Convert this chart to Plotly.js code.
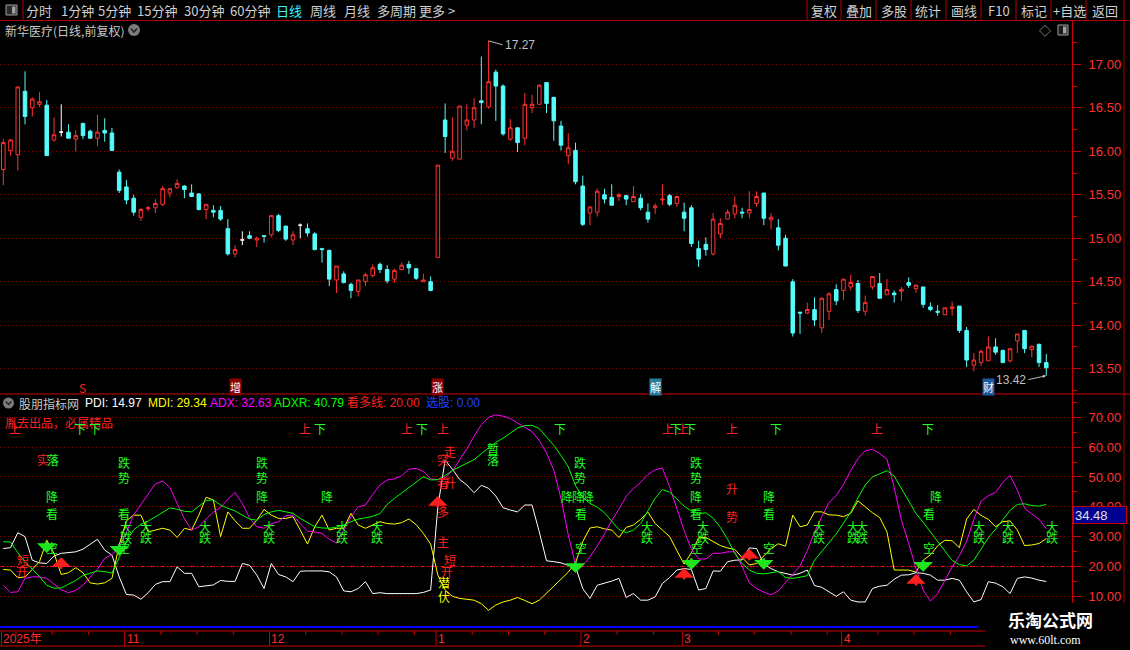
<!DOCTYPE html>
<html><head><meta charset="utf-8">
<script src="https://cdn.plot.ly/plotly-3.0.1.min.js"></script>
<style>html,body{margin:0;padding:0;background:#000;overflow:hidden}#chart{width:1130px;height:650px}</style>
</head><body><div id="chart"></div>
<script>
// ---------- data ----------
const candleOpen = [15.79,16.01,15.96,16.69,16.50,16.54,16.53,16.13,16.22,16.22,
16.14,16.32,16.23,16.15,16.24,16.21,15.76,15.59,15.46,15.24,
15.34,15.35,15.39,15.52,15.58,15.60,15.52,15.51,15.33,15.32,
15.32,15.11,14.82,14.98,15.03,14.98,15.03,15.04,15.26,15.14,
14.98,15.15,15.11,15.05,14.88,14.86,14.52,14.59,14.47,14.39,
14.50,14.57,14.70,14.64,14.53,14.64,14.70,14.65,14.50,14.50,
14.78,16.36,15.92,15.91,16.30,16.36,16.58,16.51,16.91,16.75,
16.14,16.27,16.15,16.50,16.54,16.79,16.62,16.29,15.95,16.01,
15.60,15.29,15.30,15.50,15.47,15.48,15.49,15.42,15.46,15.30,
15.35,15.44,15.49,15.40,15.30,15.35,14.88,14.93,14.82,15.05,
15.22,15.28,15.30,15.29,15.40,15.52,15.21,15.12,15.00,14.50,
14.15,14.14,14.18,13.97,14.16,14.41,14.40,14.44,14.48,14.16,
14.44,14.48,14.35,14.37,14.39,14.49,14.42,14.44,14.21,14.16,
14.12,14.19,14.22,13.94,13.54,13.57,13.59,13.75,13.71,13.59,
13.82,13.94,13.72,13.78,13.57];
const candleHigh = [16.14,16.14,16.74,16.92,16.62,16.68,16.59,16.39,16.54,16.31,
16.24,16.33,16.25,16.42,16.38,16.27,15.79,15.67,15.50,15.35,
15.37,15.45,15.60,15.57,15.68,15.61,15.62,15.52,15.39,15.38,
15.37,15.22,14.92,15.08,15.08,15.02,15.03,15.26,15.28,15.14,
15.08,15.17,15.17,15.07,14.89,14.87,14.68,14.62,14.49,14.52,
14.60,14.70,14.72,14.69,14.65,14.72,14.74,14.65,14.59,14.56,
15.84,16.55,16.39,16.52,16.54,16.61,17.09,17.27,16.94,16.77,
16.37,16.27,16.67,16.65,16.77,16.79,16.62,16.35,16.21,16.10,
15.72,15.36,15.57,15.57,15.62,15.52,15.50,15.60,15.51,15.40,
15.40,15.62,15.51,15.48,15.41,15.38,14.97,15.01,15.29,15.23,
15.33,15.48,15.35,15.54,15.54,15.52,15.29,15.22,15.04,14.53,
14.15,14.26,14.32,14.32,14.38,14.47,14.53,14.58,14.52,14.34,
14.56,14.60,14.53,14.40,14.44,14.55,14.47,14.44,14.26,14.23,
14.20,14.27,14.22,13.98,13.68,13.72,13.87,13.85,13.72,13.73,
13.90,13.94,13.76,13.79,13.67];
const candleLow = [15.61,15.95,15.78,16.31,16.40,16.51,15.95,16.11,16.17,16.15,
16.00,16.14,16.15,16.06,16.11,16.01,15.52,15.39,15.26,15.20,
15.31,15.29,15.37,15.47,15.57,15.46,15.48,15.32,15.22,15.24,
15.20,14.80,14.78,14.92,14.99,14.90,14.95,15.01,15.07,14.97,
14.92,15.00,15.02,14.86,14.72,14.45,14.37,14.48,14.31,14.33,
14.45,14.55,14.60,14.48,14.49,14.63,14.59,14.52,14.50,14.39,
14.78,15.98,15.89,15.91,16.24,16.27,16.31,16.49,16.35,16.18,
16.12,15.99,16.07,16.44,16.54,16.44,16.12,16.01,15.85,15.62,
15.14,15.15,15.25,15.40,15.38,15.43,15.38,15.42,15.32,15.18,
15.28,15.38,15.37,15.36,15.08,14.90,14.67,14.80,14.80,15.00,
15.22,15.23,15.23,15.23,15.36,15.15,15.10,14.86,14.68,13.87,
13.90,14.13,13.99,13.91,14.06,14.23,14.29,14.40,14.14,14.11,
14.41,14.31,14.35,14.26,14.28,14.43,14.37,14.20,14.16,14.11,
14.12,14.11,13.91,13.52,13.47,13.53,13.59,13.66,13.57,13.57,
13.68,13.68,13.63,13.52,13.42];
const candleClose = [16.10,16.13,16.74,16.40,16.60,16.57,15.95,16.19,16.22,16.15,
16.18,16.18,16.15,16.22,16.21,16.01,15.55,15.44,15.30,15.33,
15.35,15.40,15.57,15.57,15.63,15.56,15.48,15.33,15.39,15.30,
15.22,14.82,14.87,14.98,15.00,15.00,15.02,15.26,15.09,14.99,
15.04,15.15,15.06,14.87,14.87,14.53,14.68,14.49,14.40,14.52,
14.58,14.66,14.64,14.51,14.63,14.69,14.66,14.54,14.52,14.40,
15.84,16.17,16.00,16.52,16.36,16.50,16.56,16.80,16.75,16.20,
16.27,16.10,16.54,16.54,16.76,16.55,16.35,16.07,16.04,15.65,
15.16,15.36,15.54,15.45,15.38,15.50,15.45,15.48,15.35,15.22,
15.37,15.45,15.39,15.48,15.23,14.94,14.76,14.87,15.22,15.17,
15.30,15.38,15.29,15.33,15.48,15.23,15.24,14.92,14.68,13.91,
14.14,14.18,14.06,14.31,14.36,14.28,14.53,14.49,14.17,14.26,
14.56,14.31,14.41,14.35,14.41,14.46,14.46,14.24,14.18,14.15,
14.20,14.21,13.94,13.60,13.60,13.70,13.75,13.69,13.57,13.73,
13.90,13.73,13.76,13.57,13.51];

const pdi = [26.0,26.3,31.3,30.0,22.1,21.2,21.0,23.5,24.4,24.6,
24.9,25.8,27.5,29.1,25.5,23.8,16.5,10.6,10.4,9.0,
11.2,14.0,14.9,14.9,19.9,17.7,17.7,13.2,13.5,13.8,
15.3,15.0,15.0,21.0,20.4,17.1,12.6,21.0,17.3,16.5,
14.9,18.4,18.5,18.5,18.5,18.2,16.5,11.8,11.5,12.6,
14.9,10.9,11.2,10.9,10.9,10.9,10.9,10.9,11.3,12.1,
40.0,55.7,52.6,49.2,47.3,44.7,47.2,46.2,43.6,39.7,
38.9,38.3,40.6,40.6,31.6,21.9,21.6,21.2,20.4,19.9,
12.6,9.3,13.7,14.3,15.1,16.0,9.6,10.9,8.7,8.7,
9.8,14.3,16.3,18.8,19.3,19.0,12.1,12.6,18.5,18.4,
21.6,22.1,22.2,26.2,26.0,20.8,19.3,18.2,17.7,17.1,
17.7,18.8,13.6,13.0,11.5,10.0,11.5,8.7,8.1,8.1,
12.6,13.4,13.7,15.7,17.1,17.2,17.9,17.7,17.1,15.4,
15.4,16.0,15.4,11.5,8.1,8.9,14.9,14.4,13.2,10.9,
16.0,16.5,16.1,15.4,14.97];
const mdi = [19.0,18.8,16.2,16.5,19.0,21.6,28.8,24.4,17.3,17.9,
19.6,17.9,14.5,14.1,14.5,16.0,27.2,35.3,37.2,37.2,
31.6,32.2,32.8,32.2,29.7,32.8,32.2,37.2,43.2,42.3,
30.0,38.3,35.3,32.8,32.8,35.5,39.1,37.2,36.1,36.1,
36.7,32.2,27.5,33.3,37.2,32.2,32.8,32.8,37.8,33.9,
32.8,33.9,35.0,34.4,34.2,34.7,35.9,34.0,31.1,27.5,
17.1,12.1,10.0,9.3,9.0,8.7,7.5,5.3,7.1,8.1,
8.7,9.6,8.6,7.5,8.7,10.9,13.4,15.7,18.1,21.2,
28.3,32.9,33.3,32.6,32.2,29.7,33.1,33.9,35.8,38.2,
34.4,32.2,30.0,25.3,20.8,24.6,29.6,29.7,28.3,27.0,
26.2,25.7,23.0,20.5,21.0,23.6,26.0,27.6,26.8,37.2,
33.3,33.9,38.3,38.3,37.3,37.2,36.7,37.8,42.0,40.0,
38.0,36.4,31.6,18.8,18.8,18.8,18.1,22.1,23.9,26.9,
28.8,28.6,26.3,35.9,39.1,37.1,35.8,33.3,35.0,35.3,
32.2,27.0,27.2,27.7,29.34];
const adx = [13.7,11.3,11.5,16.0,16.5,16.5,16.0,14.1,12.2,11.2,
12.0,13.7,16.5,19.1,22.7,24.0,26.3,31.4,37.3,40.9,
44.5,47.7,48.6,46.5,41.1,36.0,32.2,33.3,35.9,38.2,
39.8,42.5,44.8,41.1,36.3,33.3,32.8,34.3,35.0,37.0,
37.2,34.3,31.9,31.6,31.1,29.1,27.9,32.1,36.7,40.0,
40.6,44.1,47.3,49.0,49.4,50.4,52.6,52.9,51.8,49.4,
49.1,49.8,52.0,55.7,59.4,63.7,67.5,70.0,70.8,70.4,
69.6,68.1,66.6,65.2,62.2,58.0,52.3,42.8,30.6,20.7,
20.3,23.2,26.9,30.9,35.4,39.2,43.5,46.1,48.2,50.8,
52.4,53.0,46.7,39.5,32.0,25.8,22.5,22.5,24.4,24.4,
24.9,24.9,20.0,14.5,12.6,11.4,10.5,11.8,14.5,17.5,
20.2,25.3,31.5,36.7,41.4,43.8,47.4,52.2,56.2,58.8,
59.3,57.8,56.0,46.4,35.5,27.7,19.4,12.1,8.4,10.9,
15.3,19.8,23.6,28.4,35.8,41.9,43.7,44.8,48.2,50.5,
45.6,39.5,37.6,35.8,32.63];
const adxr = [28.3,28.2,24.6,21.6,19.1,16.6,13.7,12.7,12.8,14.0,
15.3,17.0,17.8,18.5,18.3,17.8,23.0,28.5,32.3,34.1,
35.2,36.6,38.2,39.6,39.2,38.5,38.3,40.2,42.1,42.3,
40.6,39.5,38.6,37.2,35.9,35.5,37.4,38.3,38.8,38.3,
37.8,36.1,34.8,33.3,32.9,32.8,33.2,33.9,35.0,35.9,
36.3,36.8,37.7,40.8,42.8,44.6,46.5,48.3,50.1,49.0,
49.1,50.5,52.2,53.4,54.6,55.8,57.8,59.8,61.6,63.0,
64.7,66.4,67.2,67.3,66.2,63.5,60.6,57.2,53.4,47.1,
43.2,41.1,39.9,38.0,35.2,32.4,31.3,32.2,34.4,38.6,
42.9,45.8,44.9,42.6,40.2,38.6,37.6,38.0,36.2,33.1,
29.1,24.4,21.0,18.8,17.7,17.5,17.8,18.3,16.3,16.0,
16.4,16.9,22.1,25.1,28.2,30.9,34.5,38.2,43.0,47.3,
50.0,51.1,52.1,50.3,46.1,42.1,37.8,34.8,31.7,28.3,
25.1,22.0,20.6,20.2,22.1,26.0,29.6,32.5,35.7,38.8,
40.8,41.0,40.4,40.2,40.79];
const bullLine = 20.00;
const pickValue = 0.00;

const monthTickIdx = [0,17,37,60,80,94,116];
const monthTickText = ['2025年','11','12','1','2','3','4'];
const weekTickIdx = [2,7,12,22,27,32,42,47,52,57,65,70,75,85,90,99,104,109,114,121,126,131];

const upDownIdx = [1.6,10.6,12.7,41.7,43.7,55.7,57.8,60.7,76.9,91.8,92.9,93.8,94.8,100.6,106.7,120.6,127.7];
const upDownText = ['上','下','下','上','下','上','下','上','下','上','下','上','下','上','下','上','下'];
const trendIdx = [16.7,35.7,79.6,95.6];
const jiangIdx = [6.7,35.7,44.7,77.8,79.3,80.7,95.6,105.7,128.8];
const kanIdx = [6.7,16.7,79.8,95.6,105.7,127.8];
const kongIdx = [6.7,16.7,79.8,95.8,105.7,127.8];
const dadieIdx = [16.9,19.7,27.9,36.7,46.8,51.6,88.9,96.6,112.6,117.3,118.6,134.7,138.7,144.8];
const miscIdx = [5.5,6.9,2.7,2.6,60.7,61.7,60.7,61.7,60.7,60.7,61.7,61.3,60.8,60.8,67.6,67.6,100.6,100.6];
const miscVal = [55.7,55.7,22.2,18.2,55.7,58.4,48.0,48.0,38.3,28.2,22.2,18.2,14.5,9.8,59.7,55.7,46.3,36.6];
const miscText = ['实','落','短','开','突','走','看','升','多','主','短','开','潜','伏','暂','落','升','势'];
const miscColor = ['R','G','R','R','R','R','R','R','R','R','R','R','Y','Y','G','G','R','R'];
const upArrowIdx = [8,60,94,103,126];
const upArrowVal = [23.1,43.6,19.5,25.9,17.5];
const downArrowIdx = [6,16,79,95,105,127];
const downArrowVal = [24.5,23.6,17.8,18.9,18.9,18.2];
const eventIdx = [11,32,60,90,136];
const eventText = ['S','增','涨','解','财'];

// ---------- helpers ----------
const W=1130,H=650;
const PX=x=>x/W, PY=y=>1-y/H;
const RED='#ff3232', CYAN='#54fcfc', GRID='#8c0000', AX='#cc0000';
const SIGC={R:'#ff2020',G:'#22ff22',Y:'#ffff00'};
const CJK='"Noto Sans CJK SC", sans-serif';
const NUM='"Liberation Sans", "Noto Sans CJK SC", sans-serif';
const ann=[], shapes=[];
function ptxt(x,y,text,color,size,anchor,fam,extra){
  ann.push(Object.assign({xref:'paper',yref:'paper',x:PX(x),y:PY(y),text:text,showarrow:false,
    xanchor:anchor||'left',yanchor:'middle',font:{family:fam||CJK,size:size||13,color:color}},extra||{}));
}
function pline(x0,y0,x1,y1,color,width,dash,layer){
  shapes.push({type:'line',xref:'paper',yref:'paper',x0:PX(x0),y0:PY(y0),x1:PX(x1),y1:PY(y1),
    line:{color:color,width:width||1,dash:dash||'solid'},layer:layer||'above'});
}
function prect(x0,y0,x1,y1,fill,lineColor){
  shapes.push({type:'rect',xref:'paper',yref:'paper',x0:PX(x0),y0:PY(y0),x1:PX(x1),y1:PY(y1),
    fillcolor:fill,line:{color:lineColor||fill,width:lineColor?1:0},layer:'above'});
}
function sig(i,v,t,c){
  ann.push({xref:'x',yref:'y2',x:i,y:v,text:t,showarrow:false,xanchor:'center',yanchor:'middle',
    font:{family:CJK,size:12,color:c}});
}

// ---------- candles ----------
const idx = candleOpen.map((_,i)=>i);
function pick(cond){
  const s={x:[],open:[],high:[],low:[],close:[]};
  idx.forEach(i=>{ if(cond(i)){ s.x.push(i); s.open.push(candleOpen[i]); s.high.push(candleHigh[i]); s.low.push(candleLow[i]); s.close.push(candleClose[i]); }});
  return s;
}
function cTrace(s,line,fill){
  return Object.assign({type:'candlestick',xaxis:'x',yaxis:'y',hoverinfo:'none',whiskerwidth:0,
    increasing:{line:{color:line,width:1},fillcolor:fill},decreasing:{line:{color:line,width:1},fillcolor:fill}},s);
}
const traces=[
  cTrace(pick(i=>candleClose[i]>candleOpen[i]),RED,'#000000'),
  cTrace(pick(i=>candleClose[i]<candleOpen[i]),CYAN,CYAN),
  cTrace(pick(i=>candleClose[i]===candleOpen[i]),'#ffffff','#ffffff')
];
[[pdi,'#ffffff'],[mdi,'#ffff00'],[adx,'#ff00ff'],[adxr,'#00ff00']].forEach(([arr,c])=>{
  traces.push({type:'scatter',mode:'lines',x:idx,y:arr,xaxis:'x',yaxis:'y2',line:{color:c,width:1},hoverinfo:'none'});
});

// ---------- toolbar ----------
pline(0,20.5,W,20.5,'#b40000',1);
pline(23,0,23,20.5,'#b40000',1);
prect(6,5,17,15,'#2a2a2a','#a0a0a0'); prect(12,6.5,15.5,13.5,'#a0a0a0');
const tbL=['分时','1分钟','5分钟','15分钟','30分钟','60分钟','日线','周线','月线','多周期','更多 &gt;'];
const tbLx=[39,77,114,157,204,250,289,323,357,396,437];
tbL.forEach((t,k)=>ptxt(tbLx[k],10.5,t,t==='日线'?'#3cf4f4':'#cfcfcf',13,'center'));
const tbR=['复权','叠加','多股','统计','画线','F10','标记','+自选','返回'];
const tbRx=[824,859,894,928,964,999,1034,1069,1105];
tbR.forEach((t,k)=>ptxt(tbRx[k],10.5,t,'#cfcfcf',13,'center'));
[807,841,876,911,946,981,1016,1051,1086,1124].forEach(x=>pline(x,0,x,20.5,'#b40000',1));
pline(1124,20.5,1124,H,'#a00000',1);

// ---------- main pane header ----------
ptxt(3,30,'新华医疗(日线,前复权)','#c8c8c8',12);
shapes.push({type:'circle',xref:'paper',yref:'paper',x0:PX(128),x1:PX(140),y0:PY(36),y1:PY(24),fillcolor:'#7c7c7c',line:{width:0}});
shapes.push({type:'path',xref:'paper',yref:'paper',path:`M${PX(131)},${PY(28.5)} L${PX(134)},${PY(32)} L${PX(137)},${PY(28.5)}`,line:{color:'#222',width:1.5}});
ptxt(1045,30,'◇','#a0a0a0',12,'center');
prect(1058,25,1068,35,'#1a1a1a','#a0a0a0'); prect(1063,26.5,1066.5,33.5,'#a0a0a0');
pline(0,394,W,394,'#c80000',1);

// events on main pane
const evBg=['rgba(0,0,0,0)','#8c0000','#8c0000','#2a7c9c','#1d5a9e'];
eventIdx.forEach((i,k)=>ann.push({xref:'x',yref:'paper',x:i,y:PY(387),text:eventText[k],showarrow:false,
  xanchor:'center',yanchor:'middle',bgcolor:evBg[k],borderpad:0,
  font:{family:CJK,size:k===0?12:11,color:k===0?'#ff2020':'#ffffff'}}));

// max / min price marks
let iMax=0,iMin=0;
idx.forEach(i=>{ if(candleHigh[i]>candleHigh[iMax]) iMax=i; if(candleLow[i]<candleLow[iMin]) iMin=i; });
ann.push({xref:'x',yref:'y',x:iMax,y:candleHigh[iMax],text:candleHigh[iMax].toFixed(2),showarrow:true,arrowhead:0,
  arrowwidth:1,arrowcolor:'#b8b8b8',ax:14,ay:4,xanchor:'left',font:{family:NUM,size:12,color:'#c0c0c0'}});
ann.push({xref:'x',yref:'y',x:iMin,y:candleLow[iMin],text:candleLow[iMin].toFixed(2),showarrow:true,arrowhead:2,arrowsize:0.7,
  arrowwidth:1,arrowcolor:'#b8b8b8',ax:-18,ay:4,xanchor:'right',font:{family:NUM,size:12,color:'#c0c0c0'}});

// ---------- lower pane header ----------
shapes.push({type:'circle',xref:'paper',yref:'paper',x0:PX(3),x1:PX(14),y0:PY(408.5),y1:PY(397.5),fillcolor:'#7c7c7c',line:{width:0}});
shapes.push({type:'path',xref:'paper',yref:'paper',path:`M${PX(5.7)},${PY(401.5)} L${PX(8.5)},${PY(404.5)} L${PX(11.3)},${PY(401.5)}`,line:{color:'#222',width:1.5}});
const last=a=>a[a.length-1].toFixed(2);
ptxt(17,403,'股朋指标网','#c8c8c8',12);
ptxt(83,403,'PDI: '+last(pdi),'#ffffff',12,'left',NUM);
ptxt(146,403,'MDI: '+last(mdi),'#ffff00',12,'left',NUM);
ptxt(208,403,'ADX: '+last(adx),'#ff00ff',12,'left',NUM);
ptxt(272,403,'ADXR: '+last(adxr),'#00ff00',12,'left',NUM);
ptxt(345,403,'看多线: '+bullLine.toFixed(2),'#ff2020',12,'left',NUM);
ptxt(424,403,'选股: '+pickValue.toFixed(2),'#2040ff',12,'left',NUM);
ptxt(3,422,'胤去出品，必属精品','#ff2020',12);

// bull line at 20
shapes.push({type:'line',xref:'paper',yref:'y2',x0:0,x1:1072/W,y0:bullLine,y1:bullLine,
  line:{color:'#ff1010',width:1,dash:'5px,2px,1px,2px'},layer:'below'});

// ---------- signals ----------
upDownIdx.forEach((i,k)=>sig(i,66.1,upDownText[k],upDownText[k]==='上'?SIGC.R:SIGC.G));
trendIdx.forEach(i=>{sig(i,54.7,'跌',SIGC.G); sig(i,49.7,'势',SIGC.G);});
jiangIdx.forEach(i=>sig(i,43.6,'降',SIGC.G));
kanIdx.forEach(i=>sig(i,37.6,'看',SIGC.G));
kongIdx.forEach(i=>sig(i,26.5,'空',SIGC.G));
dadieIdx.forEach(i=>{sig(i,33.5,'大',SIGC.G); sig(i,29.7,'跌',SIGC.G);});
miscIdx.forEach((i,k)=>sig(i,miscVal[k],miscText[k],SIGC[miscColor[k]]));
upArrowIdx.forEach((i,k)=>ann.push({xref:'x',yref:'y2',x:i,y:upArrowVal[k],ax:0,ay:13,text:'',showarrow:true,
  arrowhead:1,arrowsize:1.3,arrowwidth:2.5,arrowcolor:'#ff1e1e'}));
downArrowIdx.forEach((i,k)=>ann.push({xref:'x',yref:'y2',x:i,y:downArrowVal[k],ax:0,ay:-13,text:'',showarrow:true,
  arrowhead:1,arrowsize:1.3,arrowwidth:2.5,arrowcolor:'#1ee61e'}));

// current value box
ann.push({xref:'paper',yref:'paper',x:PX(1073),y:PY(515),xanchor:'left',yanchor:'middle',text:'34.48',showarrow:false,
  bgcolor:'#000090',bordercolor:'#c80000',borderwidth:1,width:50,align:'left',height:14,
  font:{family:NUM,size:13,color:'#e0e0e0'}});

// ---------- date band ----------
pline(0,627,978,627,'#0000ff',2);
pline(0,631,W,631,'#c80000',1);
pline(0,646,W,646,'#c80000',1);
monthTickIdx.forEach((i,k)=>{
  shapes.push({type:'line',xref:'x',yref:'paper',x0:i-0.25,x1:i-0.25,y0:PY(631),y1:PY(646),line:{color:'#c80000',width:1}});
  ann.push({xref:'x',yref:'paper',x:i-0.25,y:PY(639),text:monthTickText[k],showarrow:false,xanchor:'left',yanchor:'middle',
    xshift:0,font:{family:NUM,size:12,color:'#ff2a2a'}});
});
weekTickIdx.forEach(i=>shapes.push({type:'line',xref:'x',yref:'paper',x0:i-0.25,x1:i-0.25,y0:PY(631),y1:PY(635),line:{color:'#c80000',width:1}}));

// watermark
prect(985,603,W,H,'#000000');
ptxt(1050,619,'<b>乐淘公式网</b>','#ffffff',17,'center');
ptxt(1045,640,'www.60lt.com','#ffffff',12,'center','"Liberation Serif", serif');

// ---------- layout ----------
const yCommon={side:'right',anchor:'x',tickformat:'.2f',tickfont:{family:NUM,size:13,color:RED},ticks:'outside',ticklen:8,
  tickcolor:AX,showline:true,linecolor:AX,linewidth:1,showgrid:true,gridcolor:GRID,griddash:'1px,3px',gridwidth:1,
  zeroline:false,fixedrange:true,ticklabelstandoff:5};
const layout={
  width:W,height:H,margin:{l:0,r:0,t:0,b:0},paper_bgcolor:'#000',plot_bgcolor:'#000',showlegend:false,hovermode:false,dragmode:false,
  xaxis:{domain:[0,1072/W],range:[-0.456,147.55],showticklabels:false,showgrid:false,zeroline:false,showline:false,ticks:'',
    rangeslider:{visible:false},fixedrange:true,anchor:'y2'},
  yaxis:Object.assign({},yCommon,{domain:[PY(394),PY(21)],range:[13.209,17.498],tick0:13.5,dtick:0.5,
    minor:{dtick:0.25,ticklen:4,tickcolor:AX,ticks:'outside',showgrid:false}}),
  yaxis2:Object.assign({},yCommon,{domain:[PY(626),PY(394)],range:[0.04,77.81],tickvals:[10,20,30,40,50,60,70],
    minor:{tickvals:[15,25,35,45,55,65,75],ticklen:4,tickcolor:AX,ticks:'outside',showgrid:false}}),
  shapes:shapes,annotations:ann
};
Plotly.newPlot('chart',traces,layout,{staticPlot:true,displayModeBar:false});
</script></body></html>
